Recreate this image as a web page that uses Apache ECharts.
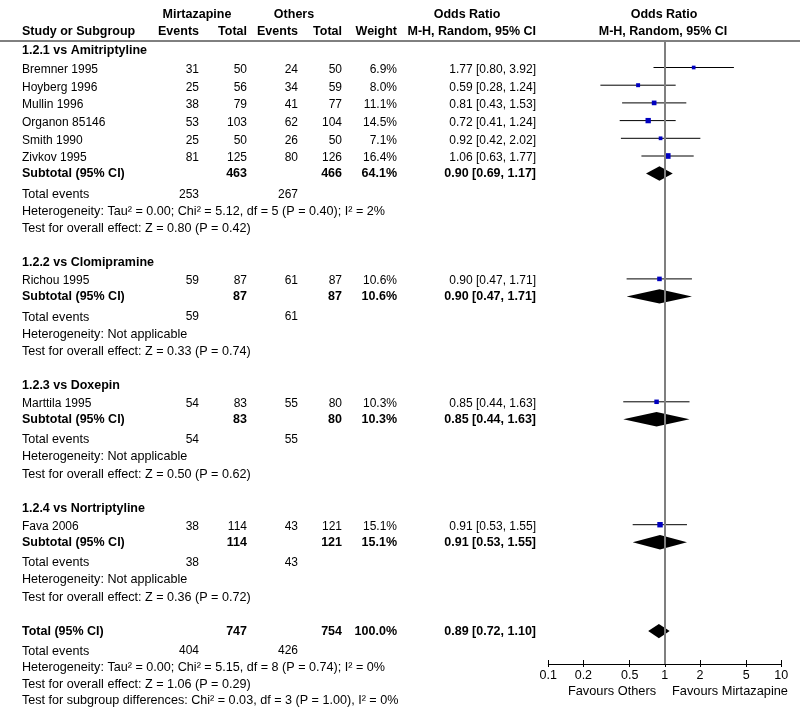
<!DOCTYPE html>
<html><head><meta charset="utf-8">
<script src="https://cdn.jsdelivr.net/npm/echarts@6/dist/echarts.min.js"></script>
<style>html,body{margin:0;padding:0;background:#fff}#chart{width:800px;height:717px}</style>
</head><body><div id="chart"></div>
<script>
// ---------------- data ----------------
const groupTitles = ['1.2.1 vs Amitriptyline', '1.2.2 vs Clomipramine', '1.2.3 vs Doxepin', '1.2.4 vs Nortriptyline'];
const studyNames = ['Bremner 1995', 'Hoyberg 1996', 'Mullin 1996', 'Organon 85146', 'Smith 1990', 'Zivkov 1995', 'Richou 1995', 'Marttila 1995', 'Fava 2006'];
const studyGroup = [0, 0, 0, 0, 0, 0, 1, 2, 3];
const mirEvents = [31, 25, 38, 53, 25, 81, 59, 54, 38];
const mirTotals = [50, 56, 79, 103, 50, 125, 87, 83, 114];
const othEvents = [24, 34, 41, 62, 26, 80, 61, 55, 43];
const othTotals = [50, 59, 77, 104, 50, 126, 87, 80, 121];
const studyWeights = [6.9, 8.0, 11.1, 14.5, 7.1, 16.4, 10.6, 10.3, 15.1];
const studyOR = [1.77, 0.59, 0.81, 0.72, 0.92, 1.06, 0.90, 0.85, 0.91];
const studyLow = [0.80, 0.28, 0.43, 0.41, 0.42, 0.63, 0.47, 0.44, 0.53];
const studyHigh = [3.92, 1.24, 1.53, 1.24, 2.02, 1.77, 1.71, 1.63, 1.55];

const subMirTotals = [463, 87, 83, 114];
const subOthTotals = [466, 87, 80, 121];
const subWeights = [64.1, 10.6, 10.3, 15.1];
const subOR = [0.90, 0.90, 0.85, 0.91];
const subLow = [0.69, 0.47, 0.44, 0.53];
const subHigh = [1.17, 1.71, 1.63, 1.55];
const subMirEvents = [253, 59, 54, 38];
const subOthEvents = [267, 61, 55, 43];
const subHetTexts = [
  'Heterogeneity: Tau² = 0.00; Chi² = 5.12, df = 5 (P = 0.40); I² = 2%',
  'Heterogeneity: Not applicable',
  'Heterogeneity: Not applicable',
  'Heterogeneity: Not applicable'
];
const subTestTexts = [
  'Test for overall effect: Z = 0.80 (P = 0.42)',
  'Test for overall effect: Z = 0.33 (P = 0.74)',
  'Test for overall effect: Z = 0.50 (P = 0.62)',
  'Test for overall effect: Z = 0.36 (P = 0.72)'
];
const totalMirTotal = 747, totalOthTotal = 754, totalWeight = 100.0;
const totalOR = 0.89, totalLow = 0.72, totalHigh = 1.10;
const totalMirEvents = 404, totalOthEvents = 426;
const totalHetText = 'Heterogeneity: Tau² = 0.00; Chi² = 5.15, df = 8 (P = 0.74); I² = 0%';
const totalTestText = 'Test for overall effect: Z = 1.06 (P = 0.29)';
const subgroupDiffText = 'Test for subgroup differences: Chi² = 0.03, df = 3 (P = 1.00), I² = 0%';
const axisTicks = [0.1, 0.2, 0.5, 1, 2, 5, 10];
const axisTickLabels = ['0.1', '0.2', '0.5', '1', '2', '5', '10'];
const favoursLeft = 'Favours Others';
const favoursRight = 'Favours Mirtazapine';

// ---------------- layout ----------------
const FONT = '"Liberation Sans", Arial, Helvetica, sans-serif';
const SIZE = { num: 12, name: 12, sentence: 12.6, bold: 12.5, favours: 12.8, tick: 12.5 };
const COLS = {
  label: { x: 22, align: 'left' },
  mirE: { x: 199, align: 'right' },
  mirT: { x: 247, align: 'right' },
  othE: { x: 298, align: 'right' },
  othT: { x: 342, align: 'right' },
  wt: { x: 397, align: 'right' },
  ci: { x: 536, align: 'right' }
};
const GAP = { header2: 17, group1: 19, group: 34, firstStudy: 18.5, study: 17.7, subtotal: 15.5,
  events: 20.7, het: 17, test: 17.2, total: 34, totalEvents: 20, totalHet: 16.3, totalTest: 16.7, subgroup: 16.6 };
const FIRST_ROW = 15;
const MARK_SHIFT = -2;
const GRID_TOP = 40, AXIS_Y = 664;

const fmt2 = v => v.toFixed(2);
const ciText = (o, l, h) => `${fmt2(o)} [${fmt2(l)}, ${fmt2(h)}]`;
const wText = w => w.toFixed(1) + '%';

const rows = [];
let y = FIRST_ROW;
function cell(col, text, kind, x, align) {
  return { col, text: String(text), bold: kind === 'bold', size: SIZE[kind] || SIZE.num, x, align };
}
rows.push({ y, cells: [
  cell(null, 'Mirtazapine', 'bold', 197, 'center'), cell(null, 'Others', 'bold', 294, 'center'),
  cell(null, 'Odds Ratio', 'bold', 467, 'center'), cell(null, 'Odds Ratio', 'bold', 664, 'center')] });
y += GAP.header2;
rows.push({ y, cells: [
  cell('label', 'Study or Subgroup', 'bold'), cell('mirE', 'Events', 'bold'), cell('mirT', 'Total', 'bold'),
  cell('othE', 'Events', 'bold'), cell('othT', 'Total', 'bold'), cell('wt', 'Weight', 'bold'),
  cell('ci', 'M-H, Random, 95% CI', 'bold'), cell(null, 'M-H, Random, 95% CI', 'bold', 663, 'center')] });

const studyMarks = [];
const diamondMarks = [];
groupTitles.forEach((title, g) => {
  y += g === 0 ? GAP.group1 : GAP.group;
  rows.push({ y, cells: [cell('label', title, 'bold')] });
  let first = true;
  studyNames.forEach((name, i) => {
    if (studyGroup[i] !== g) return;
    y += first ? GAP.firstStudy : GAP.study;
    first = false;
    rows.push({ y, cells: [cell('label', name, 'name'), cell('mirE', mirEvents[i]), cell('mirT', mirTotals[i]),
      cell('othE', othEvents[i]), cell('othT', othTotals[i]), cell('wt', wText(studyWeights[i])),
      cell('ci', ciText(studyOR[i], studyLow[i], studyHigh[i]))] });
    studyMarks.push([studyOR[i], y + MARK_SHIFT, studyLow[i], studyHigh[i], studyWeights[i]]);
  });
  y += GAP.subtotal;
  rows.push({ y, cells: [cell('label', 'Subtotal (95% CI)', 'bold'), cell('mirT', subMirTotals[g], 'bold'),
    cell('othT', subOthTotals[g], 'bold'), cell('wt', wText(subWeights[g]), 'bold'),
    cell('ci', ciText(subOR[g], subLow[g], subHigh[g]), 'bold')] });
  diamondMarks.push([subOR[g], y, subLow[g], subHigh[g]]);
  y += GAP.events;
  rows.push({ y, cells: [cell('label', 'Total events', 'sentence'), cell('mirE', subMirEvents[g]), cell('othE', subOthEvents[g])] });
  y += GAP.het;
  rows.push({ y, cells: [cell('label', subHetTexts[g], 'sentence')] });
  y += GAP.test;
  rows.push({ y, cells: [cell('label', subTestTexts[g], 'sentence')] });
});
y += GAP.total;
rows.push({ y, cells: [cell('label', 'Total (95% CI)', 'bold'), cell('mirT', totalMirTotal, 'bold'),
  cell('othT', totalOthTotal, 'bold'), cell('wt', wText(totalWeight), 'bold'),
  cell('ci', ciText(totalOR, totalLow, totalHigh), 'bold')] });
diamondMarks.push([totalOR, y, totalLow, totalHigh]);
y += GAP.totalEvents;
rows.push({ y, cells: [cell('label', 'Total events', 'sentence'), cell('mirE', totalMirEvents), cell('othE', totalOthEvents)] });
y += GAP.totalHet;
rows.push({ y, cells: [cell('label', totalHetText, 'sentence')] });
y += GAP.totalTest;
rows.push({ y, cells: [cell('label', totalTestText, 'sentence')] });
y += GAP.subgroup;
rows.push({ y, cells: [cell('label', subgroupDiffText, 'sentence')] });

// ---------------- chart ----------------
const chart = echarts.init(document.getElementById('chart'), null, { renderer: 'canvas' });
const axisCommon = {
  type: 'log', logBase: 10, min: 0.1, max: 10, position: 'bottom', gridIndex: 0,
  splitLine: { show: false }, minorTick: { show: false }, minorSplitLine: { show: false }
};
const option = {
  animation: false,
  backgroundColor: '#ffffff',
  grid: { left: 548.3, right: 800 - 781.3, top: GRID_TOP, bottom: 717 - AXIS_Y, containLabel: false },
  xAxis: [
    Object.assign({}, axisCommon, {
      axisLine: { show: true, onZero: false, lineStyle: { color: '#000', width: 1 } },
      axisTick: { show: true, inside: false, length: 3, customValues: axisTicks, lineStyle: { color: '#000', width: 1 } },
      axisLabel: { show: true, customValues: axisTicks, margin: 5, color: '#000', fontSize: SIZE.tick, fontFamily: FONT,
        formatter: v => axisTickLabels[axisTicks.findIndex(t => Math.abs(t - v) < 1e-6)] ?? String(v) }
    }),
    Object.assign({}, axisCommon, {
      axisLine: { show: false, onZero: false },
      axisTick: { show: true, inside: true, length: 4, customValues: axisTicks, lineStyle: { color: '#000', width: 1 } },
      axisLabel: { show: false }
    })
  ],
  yAxis: { type: 'value', inverse: true, min: GRID_TOP, max: AXIS_Y, show: false, splitLine: { show: false } },
  graphic: [
    { type: 'line', shape: { x1: 0, y1: 41, x2: 800, y2: 41 }, style: { stroke: '#000', lineWidth: 1 }, silent: true },
    { type: 'text', x: 612, y: 691, style: { text: favoursLeft, align: 'center', verticalAlign: 'middle', font: `${SIZE.favours}px ${FONT}`, fill: '#000' } },
    { type: 'text', x: 730, y: 691, style: { text: favoursRight, align: 'center', verticalAlign: 'middle', font: `${SIZE.favours}px ${FONT}`, fill: '#000' } }
  ],
  series: [
    {
      type: 'custom', name: 'text', clip: false, silent: true, z: 5,
      data: rows.map((r, i) => [1, r.y, i]),
      renderItem(params, api) {
        const row = rows[api.value(2)];
        const py = api.coord([1, api.value(1)])[1];
        return {
          type: 'group',
          children: row.cells.map(c => {
            const col = c.col ? COLS[c.col] : { x: c.x, align: c.align };
            return { type: 'text', style: { text: c.text, x: col.x, y: py, align: col.align, verticalAlign: 'middle',
              font: `${c.bold ? 'bold ' : ''}${c.size}px ${FONT}`, fill: '#000' } };
          })
        };
      }
    },
    {
      type: 'custom', name: 'studies', clip: false, z: 3,
      data: studyMarks,
      renderItem(params, api) {
        const c = api.coord([api.value(0), api.value(1)]);
        const l = api.coord([api.value(2), api.value(1)]);
        const h = api.coord([api.value(3), api.value(1)]);
        const s = Math.sqrt(api.value(4)) * 1.4;
        return {
          type: 'group',
          children: [
            { type: 'line', shape: { x1: l[0], y1: c[1], x2: h[0], y2: c[1] }, style: { stroke: '#000', lineWidth: 1 } },
            { type: 'rect', shape: { x: c[0] - s / 2, y: c[1] - s / 2, width: s, height: s }, style: { fill: '#0000c0' } }
          ]
        };
      },
      markLine: {
        silent: true, symbol: 'none', label: { show: false },
        lineStyle: { color: '#7f7f7f', width: 2, type: 'solid' },
        data: [{ xAxis: 1 }]
      }
    },
    {
      type: 'custom', name: 'diamonds', clip: false, z: 4,
      data: diamondMarks,
      renderItem(params, api) {
        const c = api.coord([api.value(0), api.value(1)]);
        const l = api.coord([api.value(2), api.value(1)]);
        const h = api.coord([api.value(3), api.value(1)]);
        const hh = 7.2;
        return { type: 'polygon', shape: { points: [[l[0], c[1]], [c[0], c[1] - hh], [h[0], c[1]], [c[0], c[1] + hh]] },
          style: { fill: '#000' } };
      }
    }
  ]
};
chart.setOption(option);
</script>
</body></html>
